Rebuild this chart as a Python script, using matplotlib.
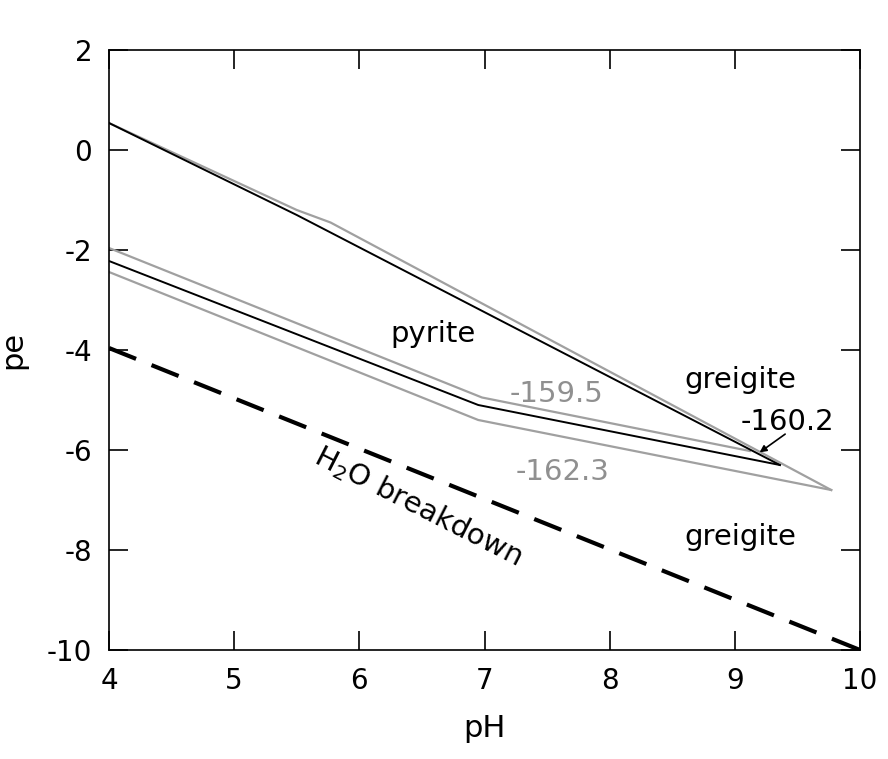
import matplotlib.pyplot as plt

# boundary lines (pH, pe)
upper_black_ph = [4.0, 5.5, 9.36]
upper_black_pe = [0.54, -1.3, -6.3]
lower_black_ph = [4.0, 6.95, 9.36]
lower_black_pe = [-2.22, -5.1, -6.3]
upper_gray_ph = [4.0, 5.5, 5.77, 9.77]
upper_gray_pe = [0.54, -1.2, -1.45, -6.8]
gray_a_ph = [4.0, 6.98, 9.12]
gray_a_pe = [-1.96, -4.95, -6.02]
gray_b_ph = [4.0, 6.95, 9.77]
gray_b_pe = [-2.44, -5.4, -6.8]
water_ph = [4.0, 10.0]
water_pe = [-3.96, -10.0]

plt.rcParams["axes.unicode_minus"] = False

fig = plt.figure(figsize=(8.88, 7.59), dpi=100)
ax = fig.add_axes([109 / 888, 1 - 650 / 759, 751 / 888, 600 / 759])

gray = "#a0a0a0"
ax.plot(upper_gray_ph, upper_gray_pe, color=gray, lw=1.6)
ax.plot(gray_a_ph, gray_a_pe, color=gray, lw=1.6)
ax.plot(gray_b_ph, gray_b_pe, color=gray, lw=1.6)
ax.plot(upper_black_ph, upper_black_pe, color="black", lw=1.4)
ax.plot(lower_black_ph, lower_black_pe, color="black", lw=1.4)
ax.plot(water_ph, water_pe, color="black", lw=3, dashes=(7, 4))

fs = 21
ax.text(6.25, -3.85, "pyrite", fontsize=fs)
ax.text(8.6, -4.75, "greigite", fontsize=fs)
ax.text(8.6, -7.9, "greigite", fontsize=fs)
ax.text(7.2, -5.05, "-159.5", fontsize=fs, color="#909090")
ax.text(7.25, -6.6, "-162.3", fontsize=fs, color="#909090")
ax.text(9.05, -5.6, "-160.2", fontsize=fs)
ax.annotate("", xy=(9.18, -6.08), xytext=(9.42, -5.65),
            arrowprops=dict(arrowstyle="-|>", color="black", lw=1.2))
ax.text(5.6, -6.35, "H$_2$O breakdown", fontsize=fs, rotation=-27,
        rotation_mode="anchor", ha="left", va="bottom")

ax.set_xlim(4, 10)
ax.set_ylim(-10, 2)
ax.set_xticks(range(4, 11))
ax.set_yticks(range(-10, 3, 2))
ax.tick_params(direction="in", length=14, width=1.2, labelsize=20,
               top=True, right=True, pad=12)
ax.set_xlabel("pH", fontsize=22, labelpad=14)
ax.set_ylabel("pe", fontsize=22, labelpad=14)
for s in ax.spines.values():
    s.set_linewidth(1.2)

fig.savefig("out.png", dpi=100)
